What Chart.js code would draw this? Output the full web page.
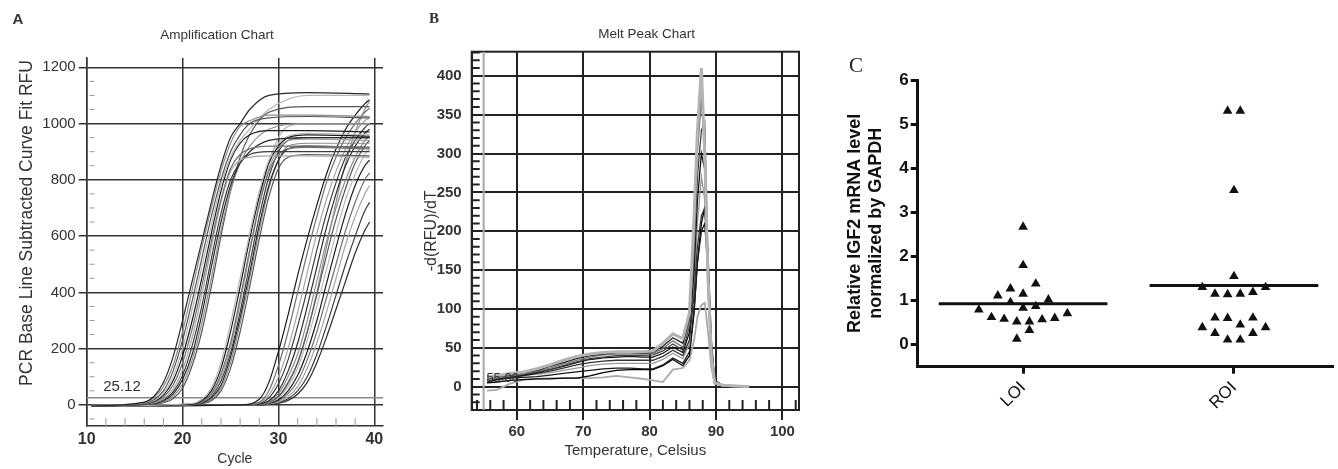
<!DOCTYPE html>
<html><head><meta charset="utf-8">
<script src="https://cdn.jsdelivr.net/npm/chart.js@4.4.1/dist/chart.umd.min.js"></script>
<style>
html,body{margin:0;padding:0;background:#fff;width:1338px;height:469px;overflow:hidden}
.p{position:absolute;top:0}
#wa{left:0;width:420px;height:469px}
#wb{left:420px;width:400px;height:469px}
#wc{left:820px;width:518px;height:469px}
</style></head><body>
<div class="p" id="wa"><canvas id="ca" width="420" height="469"></canvas></div>
<div class="p" id="wb"><canvas id="cb" width="400" height="469"></canvas></div>
<div class="p" id="wc"><canvas id="cc" width="518" height="469"></canvas></div>
<script>
// ---------- Panel A: amplification curves ----------
const ampXTicks = [10, 20, 30, 40];
const ampYTicks = [0, 200, 400, 600, 800, 1000, 1200];
const ampThreshold = 25.12;
const ampCyclesEarly = [10.5, 16, 17, 18, 19, 20, 21, 22, 23, 24, 25, 26, 27, 29, 33, 39.5];
const ampEarly = [
  [-4, 10, 30, 80, 170, 300, 440, 580, 720, 850, 950, 1000, 1050, 1100, 1110, 1105],
  [-3, 8, 25, 65, 140, 260, 410, 560, 700, 830, 930, 990, 1010, 1030, 1030, 1025],
  [-5, 5, 18, 50, 120, 230, 370, 520, 670, 800, 900, 960, 1000, 1020, 1025, 1020],
  [-2, 4, 15, 40, 100, 200, 340, 490, 640, 780, 880, 940, 980, 1050, 1100, 1100],
  [-4, 3, 12, 35, 85, 175, 300, 450, 610, 760, 870, 930, 960, 975, 975, 970],
  [-3, 3, 10, 28, 70, 150, 270, 420, 580, 730, 840, 890, 910, 920, 920, 915],
  [-5, 2, 8, 22, 55, 125, 240, 390, 560, 720, 830, 870, 880, 885, 885, 880],
  [-2, 2, 6, 18, 45, 105, 210, 350, 520, 680, 800, 860, 890, 900, 900, 900],
  [-4, 2, 5, 14, 38, 90, 180, 320, 490, 650, 780, 860, 900, 940, 950, 950],
  [-3, 1, 4, 10, 30, 75, 160, 290, 450, 620, 760, 860, 920, 980, 1000, 1000],
  [-5, 1, 3, 8, 22, 60, 140, 260, 420, 600, 760, 880, 960, 1040, 1060, 1060]
];
const ampCyclesMid = [10.5, 21, 22, 23, 24, 25, 26, 27, 28, 29, 30, 31, 33, 39.5];
const ampMid = [
  [-4, 5, 20, 60, 150, 290, 450, 610, 760, 870, 930, 955, 965, 960],
  [-3, 3, 15, 50, 130, 260, 420, 590, 740, 860, 920, 950, 960, 955],
  [-5, 2, 10, 40, 110, 220, 380, 550, 710, 830, 890, 910, 915, 910],
  [-4, 2, 10, 35, 95, 200, 360, 540, 710, 840, 910, 940, 945, 940],
  [-2, 2, 8, 30, 85, 185, 330, 500, 670, 810, 900, 940, 950, 950],
  [-3, 2, 6, 25, 70, 170, 310, 470, 640, 780, 870, 910, 920, 915],
  [-4, 1, 5, 20, 60, 150, 290, 450, 620, 770, 870, 920, 930, 930],
  [-2, 1, 4, 15, 50, 130, 260, 420, 590, 740, 840, 880, 890, 885],
  [-3, 2, 10, 35, 100, 210, 370, 550, 720, 860, 950, 990, 1000, 1000]
];
const ampCyclesLate = [10.5, 26, 28, 29, 30, 31, 32, 33, 34, 35, 36, 37, 38, 39, 39.5];
const ampLate = [
  [-4, 0, 20, 80, 190, 320, 460, 590, 710, 820, 910, 980, 1030, 1070, 1085],
  [-3, 0, 10, 50, 140, 260, 400, 540, 670, 790, 880, 950, 1000, 1040, 1055],
  [-5, 0, 8, 35, 100, 200, 330, 470, 610, 730, 830, 910, 970, 1010, 1020],
  [-2, 0, 5, 25, 75, 160, 280, 410, 550, 680, 790, 880, 940, 985, 1000],
  [-4, 0, 3, 15, 50, 120, 220, 350, 490, 630, 750, 850, 920, 965, 980],
  [-3, 0, 3, 12, 40, 100, 180, 300, 440, 580, 700, 800, 880, 940, 955],
  [-5, 0, 2, 10, 30, 80, 150, 260, 390, 530, 660, 770, 860, 920, 940],
  [-2, 0, 2, 8, 25, 65, 130, 230, 350, 480, 610, 730, 820, 890, 910],
  [-4, 0, 1, 6, 18, 50, 105, 190, 300, 430, 560, 680, 780, 850, 870],
  [-3, 0, 1, 5, 14, 40, 85, 160, 260, 380, 500, 620, 720, 800, 825],
  [-5, 0, 1, 4, 10, 30, 65, 130, 220, 330, 450, 570, 670, 750, 780],
  [-2, 0, 0, 3, 8, 22, 50, 100, 180, 280, 390, 500, 600, 690, 720],
  [-4, 0, 0, 2, 6, 16, 38, 80, 150, 240, 340, 440, 540, 620, 650],
  [-3, 0, 2, 10, 28, 75, 150, 260, 400, 560, 720, 860, 970, 1050, 1080]
];

// ---------- Panel B: melt peak curves ----------
const meltXTicks = [60, 70, 80, 90, 100];
const meltYTicks = [0, 50, 100, 150, 200, 250, 300, 350, 400];
const meltStart = 55;
const meltTemps = [55.5, 57, 59, 61, 63, 65, 67, 69, 71, 73, 75, 77, 79, 80.5, 82, 83.5, 85, 86, 86.7, 87.2, 87.8, 88.3, 88.8, 89.3, 89.8, 91, 93, 95];
const meltCurves = [
  [12, 14, 17, 19, 23, 28, 34, 39, 42, 44, 45, 45, 45, 46, 56, 68, 62, 95, 220, 330, 410, 300, 140, 40, 5, 2, 1, 0],
  [10, 13, 15, 18, 21, 26, 31, 36, 40, 42, 44, 44, 43, 44, 52, 63, 56, 88, 210, 320, 395, 290, 130, 35, 4, 2, 1, 0],
  [8, 11, 14, 17, 20, 24, 29, 34, 38, 41, 42, 42, 42, 43, 49, 59, 51, 82, 190, 300, 370, 300, 140, 40, 5, 2, 0, 0],
  [14, 12, 13, 16, 19, 22, 27, 32, 36, 38, 40, 40, 40, 41, 46, 55, 47, 78, 170, 270, 330, 340, 160, 45, 6, 2, 1, 0],
  [6, 9, 12, 15, 18, 22, 26, 31, 35, 37, 38, 39, 38, 38, 43, 51, 44, 70, 150, 240, 300, 280, 150, 45, 6, 2, 1, -1],
  [8, 10, 12, 14, 17, 20, 24, 28, 31, 33, 34, 34, 34, 34, 39, 47, 40, 60, 120, 180, 220, 230, 170, 60, 8, 2, 0, 0],
  [10, 11, 13, 15, 16, 18, 21, 24, 27, 29, 30, 30, 30, 30, 35, 43, 36, 55, 130, 210, 270, 240, 120, 35, 5, 1, 1, 0],
  [8, 9, 11, 12, 13, 15, 17, 19, 21, 23, 24, 24, 23, 23, 28, 37, 30, 45, 100, 160, 200, 210, 150, 50, 7, 2, 0, 0],
  [5, 6, 8, 9, 10, 10, 11, 11, 14, 18, 21, 22, 22, 22, 27, 35, 27, 40, 95, 160, 210, 230, 160, 55, 8, 2, 0, 0],
  [-5, -4, 4, 9, 10, 11, 11, 11, 11, 12, 14, 12, 10, 8, 6, 22, 24, 34, 60, 90, 105, 108, 70, 25, 4, 1, 0, 0]
];

// ---------- Panel C: IGF2 expression ----------
const groups = ['LOI', 'ROI'];
const yTicksC = [0, 1, 2, 3, 4, 5, 6];
const loiValues = [2.67, 1.80, 1.38, 1.27, 1.11, 1.15, 0.96, 1.02, 0.83, 0.87, 0.79, 0.71, 0.62, 0.58, 0.52, 0.52, 0.57, 0.60, 0.33, 0.13];
const loiSlots  = [0, 0, 1, -1, -2, 0, -1, 2, 0, 1, -3.5, 3.5, -2.5, -1.5, -0.5, 0.5, 1.5, 2.5, 0.5, -0.5];
const roiValues = [5.30, 5.30, 3.50, 1.55, 1.30, 1.30, 1.15, 1.14, 1.15, 1.19, 0.61, 0.60, 0.61, 0.39, 0.45, 0.39, 0.26, 0.26, 0.11, 0.11];
const roiSlots  = [-0.5, 0.5, 0, 0, -2.5, 2.5, -1.5, -0.5, 0.5, 1.5, -1.5, -0.5, 1.5, -2.5, 0.5, 2.5, -1.5, 1.5, -0.5, 0.5];
const medians = [0.925, 1.34];

// ---------- styles ----------
const SANS = "'Liberation Sans', Arial, sans-serif";
const SERIF = "'Liberation Serif', 'DejaVu Serif', serif";
const ampColors = ['#2a2a2a', '#8c8c8c', '#555555', '#b8b8b8', '#1a1a1a', '#707070', '#a5a5a5', '#3c3c3c'];
const meltColors = ['#b4b4b4', '#222222', '#777777', '#444444', '#111111', '#333333', '#999999', '#1a1a1a', '#000000', '#aaaaaa'];
const meltWidths = [3, 1.3, 1.3, 1.3, 1.3, 1.3, 1.3, 1.3, 1.3, 1.8];
const jitter = 0.06, halfMedian = 0.4;
const plain = v => String(v);

function fixTicks(vals) { return s => { s.ticks = vals.map(v => ({ value: v })); }; }
function minorTicks(chart, xs, ys, xlen, ylen, yoff, color, width) {
  const { ctx, chartArea: a, scales: { x, y } } = chart;
  ctx.save(); ctx.strokeStyle = color; ctx.lineWidth = width; ctx.beginPath();
  xs.forEach(v => { const px = x.getPixelForValue(v); ctx.moveTo(px, a.bottom); ctx.lineTo(px, a.bottom - xlen); });
  ys.forEach(v => { const py = y.getPixelForValue(v); ctx.moveTo(a.left + yoff, py); ctx.lineTo(a.left + yoff + ylen, py); });
  ctx.stroke(); ctx.restore();
}
function text(ctx, str, x, y, font, color, rot) {
  ctx.save(); ctx.font = font; ctx.fillStyle = color; ctx.textAlign = 'center'; ctx.textBaseline = 'middle';
  ctx.translate(x, y); if (rot) ctx.rotate(rot); ctx.fillText(str, 0, 0); ctx.restore();
}

// ---------- Chart A ----------
const ampSets = [];
let ci = 0;
[[ampCyclesEarly, ampEarly], [ampCyclesMid, ampMid], [ampCyclesLate, ampLate]].forEach(([xs, curves]) => {
  curves.forEach(vals => {
    ampSets.push({ data: xs.map((c, i) => ({ x: c, y: vals[i] })), borderColor: ampColors[ci % ampColors.length],
      borderWidth: 1.2, pointRadius: 0, fill: false, cubicInterpolationMode: 'monotone' });
    ci++;
  });
});
const ampXMinor = [], ampYMinor = [];
for (let c = 12; c < 40; c += 2) if (c % 10) ampXMinor.push(c);
for (let v = -50; v < 1200; v += 50) if (v % 200) ampYMinor.push(v);

new Chart(document.getElementById('ca'), {
  type: 'line',
  data: { datasets: ampSets },
  options: {
    responsive: false, animation: false, parsing: false, normalized: true,
    layout: { padding: { left: 0, top: 58, right: 37, bottom: 0 } },
    plugins: { legend: { display: false }, tooltip: { enabled: false } },
    scales: {
      x: { type: 'linear', min: 10, max: 40.9, afterBuildTicks: fixTicks(ampXTicks), afterFit: s => { s.height = 43; },
        grid: { color: '#333', lineWidth: 1.5, drawTicks: false },
        border: { display: true, color: '#333', width: 1.5 },
        ticks: { callback: plain, font: { family: SANS, size: 16, weight: 'bold' }, color: '#333', padding: 4, maxRotation: 0 },
        title: { display: true, text: 'Cycle', font: { family: SANS, size: 14 }, color: '#333', padding: { top: 0, bottom: 1 } } },
      y: { type: 'linear', min: -75, max: 1233, afterBuildTicks: fixTicks(ampYTicks), afterFit: s => { s.width = 86.7; },
        grid: { color: '#333', lineWidth: 1.5, drawTicks: true, tickLength: 8 },
        border: { display: true, color: '#333', width: 1.5 },
        ticks: { callback: plain, font: { family: SANS, size: 15 }, color: '#333', padding: 3 } }
    }
  },
  plugins: [{
    id: 'ampExtras',
    beforeDatasetsDraw(chart) {
      const { ctx, chartArea: a, scales: { y } } = chart;
      const py = y.getPixelForValue(ampThreshold);
      ctx.save(); ctx.strokeStyle = '#8a8a8a'; ctx.lineWidth = 1.5; ctx.beginPath();
      ctx.moveTo(a.left, py); ctx.lineTo(a.right, py); ctx.stroke(); ctx.restore();
      minorTicks(chart, ampXMinor, ampYMinor, 8, 5, 3, '#999', 1);
    },
    afterDraw(chart) {
      const { ctx, scales: { y } } = chart;
      text(ctx, 'A', 18, 20, 'bold 15px ' + SANS, '#333');
      text(ctx, 'Amplification Chart', 217, 35, '13.5px ' + SANS, '#333');
      text(ctx, 'PCR Base Line Subtracted Curve Fit RFU', 27, 223, '17.5px ' + SANS, '#333', -Math.PI / 2);
      text(ctx, ampThreshold.toFixed(2), 122, y.getPixelForValue(ampThreshold) - 11, '15px ' + SANS, '#333');
    }
  }]
});

// ---------- Chart B ----------
const meltXMinor = [], meltYMinor = [];
for (let t = 54; t <= 102; t += 2) if (t % 10) meltXMinor.push(t);
for (let v = -20; v <= 430; v += 10) if (v % 50) meltYMinor.push(v);
new Chart(document.getElementById('cb'), {
  type: 'line',
  data: { datasets: meltCurves.map((vals, k) => ({
    data: meltTemps.map((t, i) => ({ x: t, y: vals[i] })), borderColor: meltColors[k], borderWidth: meltWidths[k],
    pointRadius: 0, fill: false, tension: 0 })) },
  options: {
    responsive: false, animation: false, parsing: false,
    layout: { padding: { left: 0, top: 51.7, right: 21, bottom: 0 } },
    plugins: { legend: { display: false }, tooltip: { enabled: false } },
    scales: {
      x: { type: 'linear', min: 53.2, max: 102.5, afterBuildTicks: fixTicks(meltXTicks), afterFit: s => { s.height = 59; },
        grid: { color: '#222', lineWidth: 2, drawTicks: true, tickLength: 10 },
        border: { display: true, color: '#222', width: 2 },
        ticks: { callback: plain, font: { family: SANS, size: 15, weight: 'bold' }, color: '#333', padding: 3, maxRotation: 0 },
        title: { display: true, text: 'Temperature, Celsius', font: { family: SANS, size: 15 }, color: '#333', padding: { top: 0, bottom: 9.5 } } },
      y: { type: 'linear', min: -30, max: 431, afterBuildTicks: fixTicks(meltYTicks), afterFit: s => { s.width = 51.7; },
        grid: { color: '#222', lineWidth: 2, drawTicks: false },
        border: { display: true, color: '#222', width: 2 },
        ticks: { callback: plain, font: { family: SANS, size: 15, weight: 'bold' }, color: '#333', padding: 10 },
        title: { display: true, text: '-d(RFU)/dT', font: { family: SANS, size: 16 }, color: '#333', padding: { top: 2, bottom: 0 } } }
    }
  },
  plugins: [{
    id: 'meltExtras',
    beforeDatasetsDraw(chart) {
      const { ctx, chartArea: a, scales: { x } } = chart;
      ctx.save(); ctx.strokeStyle = '#222'; ctx.lineWidth = 2; ctx.strokeRect(a.left, a.top, a.right - a.left, a.bottom - a.top);
      const px = x.getPixelForValue(meltStart);
      ctx.strokeStyle = '#a8a8a8'; ctx.beginPath(); ctx.moveTo(px, a.top); ctx.lineTo(px, a.bottom); ctx.stroke(); ctx.restore();
      minorTicks(chart, meltXMinor, meltYMinor, 10, 8, 0, '#222', 2);
    },
    afterDraw(chart) {
      const { ctx, scales: { x, y } } = chart;
      text(ctx, 'B', 14, 19, 'bold 15px ' + SERIF, '#333');
      text(ctx, 'Melt Peak Chart', 226.7, 34, '13.5px ' + SANS, '#333');
      text(ctx, meltStart.toFixed(2), x.getPixelForValue(meltStart) + 19, y.getPixelForValue(11), '13px ' + SANS, '#333');
    }
  }]
});

// ---------- Chart C ----------
const medianLine = g => [{ x: g - halfMedian, y: medians[g] }, { x: g + halfMedian, y: medians[g] }];
new Chart(document.getElementById('cc'), {
  type: 'scatter',
  data: { datasets: [
    { data: loiValues.map((v, i) => ({ x: 0 + loiSlots[i] * jitter, y: v })), pointStyle: 'triangle', pointRadius: 5.6,
      backgroundColor: '#111', borderWidth: 0 },
    { data: roiValues.map((v, i) => ({ x: 1 + roiSlots[i] * jitter, y: v })), pointStyle: 'triangle', pointRadius: 5.6,
      backgroundColor: '#111', borderWidth: 0 },
    { type: 'line', data: medianLine(0), borderColor: '#111', borderWidth: 3, pointRadius: 0 },
    { type: 'line', data: medianLine(1), borderColor: '#111', borderWidth: 3, pointRadius: 0 }
  ] },
  options: {
    responsive: false, animation: false,
    layout: { padding: { left: 0, top: 80, right: 0, bottom: 0 } },
    plugins: { legend: { display: false }, tooltip: { enabled: false } },
    scales: {
      x: { type: 'linear', min: -0.5, max: 1.467, afterBuildTicks: fixTicks([0, 1]), afterFit: s => { s.height = 102.3; },
        grid: { display: true, drawOnChartArea: false, drawTicks: true, tickLength: 7, lineWidth: 3, color: '#111' },
        border: { display: true, color: '#111', width: 3 },
        ticks: { callback: v => groups[v], font: { family: SANS, size: 17 }, color: '#111', minRotation: 45, maxRotation: 45, padding: 4 } },
      y: { type: 'linear', min: -0.5, max: 6, afterBuildTicks: fixTicks(yTicksC), afterFit: s => { s.width = 97.7; },
        grid: { display: true, drawOnChartArea: false, drawTicks: true, tickLength: 7, lineWidth: 3, color: '#111' },
        border: { display: true, color: '#111', width: 3 },
        ticks: { callback: plain, font: { family: SANS, size: 17, weight: 'bold' }, color: '#111', padding: 2 },
        title: { display: true, text: ['Relative IGF2 mRNA level', 'normalized by GAPDH'], font: { family: SANS, size: 18, weight: 'bold' },
          color: '#111', padding: { top: 24, bottom: 0 } } }
    }
  },
  plugins: [{
    id: 'cExtras',
    afterDraw(chart) { text(chart.ctx, 'C', 36, 66, '21px ' + SERIF, '#222'); }
  }]
});
</script>
</body></html>
